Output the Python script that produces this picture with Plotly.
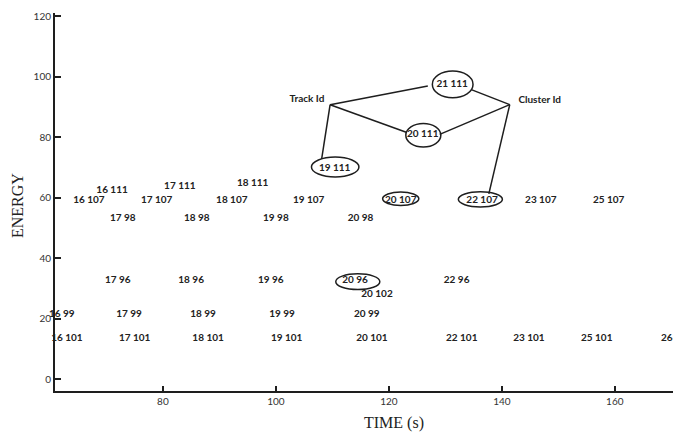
import plotly.graph_objects as go

# ---- data labels (text, time, energy) ----
label_text = ["16 107", "16 111", "17 107", "17 111", "18 107", "18 111", "19 107",
              "17 98", "18 98", "19 98", "20 98",
              "17 96", "18 96", "19 96", "20 96", "22 96", "20 102",
              "16 99", "17 99", "18 99", "19 99", "20 99",
              "16 101", "17 101", "18 101", "19 101", "20 101", "22 101", "23 101", "25 101", "26",
              "20 107", "22 107", "23 107", "25 107",
              "19 111", "20 111", "21 111"]
label_x = [66.9, 71.0, 78.9, 83.0, 92.2, 95.9, 105.8,
           72.9, 86.0, 100.0, 115.0,
           72.0, 85.0, 99.1, 114.0, 132.0, 117.9,
           62.1, 74.0, 87.1, 101.1, 116.1,
           63.0, 75.0, 88.0, 101.9, 117.0, 132.9, 144.8, 156.8, 169.2,
           122.1, 136.5, 146.9, 158.9,
           110.4, 126.0, 131.2]
label_y = [59.0, 62.3, 59.0, 63.6, 59.0, 64.9, 59.0,
           53.1, 53.1, 53.1, 53.1,
           32.8, 32.8, 32.8, 32.8, 32.8, 28.2,
           21.3, 21.3, 21.3, 21.3, 21.3,
           13.4, 13.4, 13.4, 13.4, 13.4, 13.4, 13.4, 13.4, 13.4,
           59.0, 59.0, 59.0, 59.0,
           69.8, 81.0, 97.4]

# ---- circled labels (ellipse centre and radii, data units) ----
ellipse_cx = [131.3, 126.1, 110.5, 122.1, 136.2, 114.5]
ellipse_cy = [97.5, 80.7, 70.2, 59.7, 59.5, 32.3]
ellipse_rx = [3.6, 3.1, 4.2, 3.2, 3.9, 3.9]
ellipse_ry = [4.4, 3.9, 3.3, 2.2, 2.5, 2.6]

# ---- callouts ----
callout_text = ["Track Id", "Cluster Id"]
callout_text_x = [105.5, 146.7]
callout_text_y = [92.5, 92.1]
callout_apex_x = [109.6, 141.4]
callout_apex_y = [90.8, 90.8]
# connector end points for each callout
callout_end_x = [[126.9, 123.2, 108.1], [134.7, 129.0, 137.7]]
callout_end_y = [[97.0, 81.6, 72.8], [95.7, 81.0, 61.3]]

x_ticks = [80, 100, 120, 140, 160]
y_ticks = [0, 20, 40, 60, 80, 100, 120]

INK = "#1e1e1e"
SANS = "Lato, 'Open Sans', sans-serif"
SERIF = "'Liberation Serif', 'Times New Roman', serif"

fig = go.Figure()

# connector lines
lx, ly = [], []
for i in range(len(callout_text)):
    for ex, ey in zip(callout_end_x[i], callout_end_y[i]):
        lx += [callout_apex_x[i], ex, None]
        ly += [callout_apex_y[i], ey, None]
fig.add_trace(go.Scatter(x=lx, y=ly, mode="lines",
                         line=dict(color=INK, width=1.5), hoverinfo="skip"))

# labels
fig.add_trace(go.Scatter(x=label_x, y=label_y, mode="text", text=label_text,
                         textposition="middle center",
                         textfont=dict(family=SANS, size=10, color="#222222", weight="bold"),
                         cliponaxis=False, hoverinfo="skip"))

# callout texts
fig.add_trace(go.Scatter(x=callout_text_x, y=callout_text_y, mode="text", text=callout_text,
                         textposition="middle center",
                         textfont=dict(family=SANS, size=10, color="#222222", weight="bold"),
                         cliponaxis=False, hoverinfo="skip"))

# ellipses
for cx, cy, rx, ry in zip(ellipse_cx, ellipse_cy, ellipse_rx, ellipse_ry):
    fig.add_shape(type="circle", xref="x", yref="y",
                  x0=cx - rx, x1=cx + rx, y0=cy - ry, y1=cy + ry,
                  line=dict(color=INK, width=1.5), fillcolor="rgba(0,0,0,0)")

# page body has an 8px margin: figure placed at (8, 8)
fig.update_layout(
    width=673, height=427,
    margin=dict(l=47, r=8, t=2, b=44),
    plot_bgcolor="white", paper_bgcolor="white",
    showlegend=False,
    xaxis=dict(range=[60.9, 170.3], tickvals=x_ticks, ticktext=[str(v) for v in x_ticks],
               ticks="inside", ticklen=5, tickwidth=1.5, tickcolor=INK,
               showline=True, linewidth=2, linecolor=INK,
               showgrid=False, zeroline=False, ticklabeloverflow="allow",
               tickfont=dict(family=SANS, size=10, color="#333333")),
    yaxis=dict(range=[-3.84, 121.1], tickvals=y_ticks, ticktext=[str(v) for v in y_ticks],
               ticks="inside", ticklen=6, tickwidth=1.5, tickcolor=INK,
               showline=True, linewidth=2, linecolor=INK,
               showgrid=False, zeroline=False, ticklabeloverflow="allow",
               tickfont=dict(family=SANS, size=10, color="#333333")),
    annotations=[
        dict(text="TIME (s)", xref="paper", yref="paper", x=0.549, y=-0.084,
             xanchor="center", yanchor="middle", showarrow=False,
             font=dict(family=SERIF, size=16, color="#222222")),
        dict(text="ENERGY", xref="paper", yref="paper", x=-0.061, y=0.49,
             xanchor="center", yanchor="middle", showarrow=False, textangle=-90,
             font=dict(family=SERIF, size=16, color="#222222")),
    ],
)

fig.write_html("out.html")
